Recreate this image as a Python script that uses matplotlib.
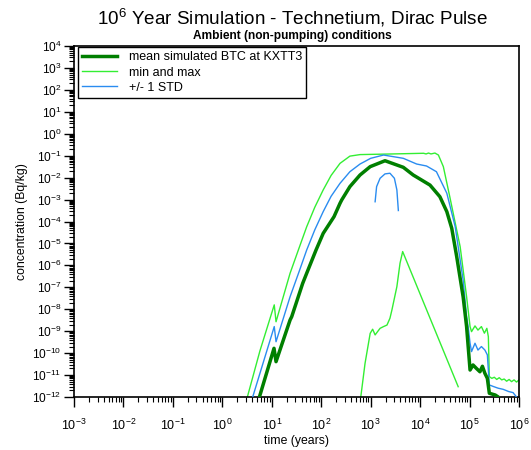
import numpy as np
import matplotlib
matplotlib.use("Agg")
import matplotlib.pyplot as plt
from matplotlib.ticker import LogLocator, NullFormatter, LogFormatterMathtext

plt.rcParams['font.family'] = ['Liberation Sans', 'DejaVu Sans']
plt.rcParams['mathtext.fontset'] = 'custom'
plt.rcParams['mathtext.rm'] = 'Liberation Sans'
plt.rcParams['mathtext.it'] = 'Liberation Sans:italic'
plt.rcParams['mathtext.bf'] = 'Liberation Sans:bold'

# ---- data (time in years, concentration in Bq/kg) ----
mean_t = [10**v for v in [0.70, 0.75, 1.045, 1.086, 1.37, 1.403, 1.625, 1.706, 1.895, 2.04, 2.259,
                          2.38, 2.414, 2.58, 2.785, 2.99, 3.29, 3.66, 3.86, 4.03, 4.20, 4.40, 4.54,
                          4.64, 4.74, 4.87, 4.94, 5.01, 5.07, 5.14, 5.21, 5.26, 5.31, 5.36, 5.40,
                          5.52, 5.58, 5.62]]
mean_c = [10**v for v in [-12.4, -12.0, -9.78, -10.39, -8.49, -8.34, -6.82, -6.36, -5.30, -4.54,
                          -3.78, -3.17, -3.02, -2.41, -1.88, -1.50, -1.23, -1.53, -1.88, -2.11,
                          -2.34, -2.87, -3.55, -4.31, -5.60, -7.43, -8.79, -10.77, -10.54, -10.70,
                          -10.85, -10.60, -10.92, -11.15, -11.83, -11.91, -12.0, -12.2]]

max_t = [10**v for v in [0.46, 0.506, 0.76, 1.05, 1.086, 1.37, 1.55, 1.706, 1.87, 2.04, 2.2, 2.38,
                         2.58, 2.785, 3.46, 4.07, 4.12, 4.17, 4.22, 4.30, 4.37, 4.47, 4.60, 4.74,
                         4.81, 4.94, 5.01, 5.04, 5.11, 5.17, 5.24, 5.30, 5.35, 5.38, 5.40, 5.45,
                         5.50, 5.55, 5.60, 5.65, 5.70, 5.75, 5.80, 5.85, 5.90, 5.95, 6.0]]
max_c = [10**v for v in [-12.4, -12.0, -9.9, -7.80, -8.57, -6.36, -5.22, -4.24, -3.35, -2.56, -1.90,
                         -1.35, -1.02, -0.95, -0.92, -0.89, -0.92, -0.88, -0.92, -0.88, -0.97,
                         -1.50, -2.87, -4.39, -5.15, -7.43, -8.79, -9.02, -8.76, -8.95, -8.79,
                         -9.09, -8.87, -9.25, -11.07, -11.15, -11.10, -11.20, -11.12, -11.22,
                         -11.18, -11.28, -11.20, -11.30, -11.22, -11.32, -11.22]]

min_t = [10**v for v in [2.78, 2.80, 2.886, 2.99, 3.04, 3.09, 3.19, 3.26, 3.33, 3.39, 3.43, 3.53,
                         3.594, 3.647, 4.77]]
min_c = [10**v for v in [-12.3, -12.0, -10.47, -9.10, -8.91, -9.17, -8.87, -8.79, -8.72, -8.41,
                         -8.03, -6.97, -5.90, -5.37, -11.53]]

stdhi_t = [10**v for v in [0.57, 0.614, 1.05, 1.086, 1.37, 1.55, 1.706, 1.87, 2.04, 2.2, 2.38,
                           2.58, 2.785, 3.0, 3.26, 3.66, 3.93, 4.13, 4.33, 4.54, 4.71, 4.87, 4.94,
                           4.98, 5.01, 5.04, 5.11, 5.17, 5.24, 5.31, 5.36, 5.40, 5.48, 5.58, 5.68,
                           5.79, 5.88, 5.95, 6.0]]
stdhi_c = [10**v for v in [-12.4, -12.0, -8.79, -9.48, -7.43, -6.30, -5.30, -4.38, -3.55, -2.85,
                           -2.26, -1.73, -1.38, -1.12, -0.97, -1.12, -1.38, -1.47, -1.73, -2.71,
                           -4.24, -6.67, -8.34, -8.94, -9.55, -9.93, -9.55, -9.86, -9.70, -9.86,
                           -10.08, -11.45, -11.52, -11.60, -11.65, -11.75, -11.80, -12.0, -12.2]]

stdlo_t = [10**v for v in [3.09, 3.12, 3.19, 3.29, 3.39, 3.48, 3.53, 3.56]]
stdlo_c = [10**v for v in [-3.10, -2.41, -2.03, -1.83, -1.80, -2.03, -2.56, -3.50]]

x_ticks = [10.0**k for k in range(-3, 7)]
y_ticks = [10.0**k for k in range(-12, 5)]

# ---- figure ----
fig = plt.figure(figsize=(5.31, 4.5), dpi=100)
ax = fig.add_axes([74/531, 1-397/450, (519-74)/531, (397-46)/450])

c_dark = '#007f00'
c_lime = '#33ee33'
c_blue = '#2a8cf0'

ax.plot(max_t, max_c, color=c_lime, lw=1.0, label='min and max', zorder=2)
ax.plot(min_t, min_c, color=c_lime, lw=1.0, zorder=2)
ax.plot(stdhi_t, stdhi_c, color=c_blue, lw=1.0, label='+/- 1 STD', zorder=3)
ax.plot(stdlo_t, stdlo_c, color=c_blue, lw=1.0, zorder=3)
ax.plot(mean_t, mean_c, color=c_dark, lw=2.5, label='mean simulated BTC at KXTT3', zorder=4)

ax.set_xscale('log')
ax.set_yscale('log')
ax.set_xlim(1e-3, 1e6)
ax.set_ylim(1e-12, 1e4)
ax.set_xticks(x_ticks)
ax.set_yticks(y_ticks)
ax.xaxis.set_major_formatter(LogFormatterMathtext())
ax.yaxis.set_major_formatter(LogFormatterMathtext())
ax.xaxis.set_minor_locator(LogLocator(base=10, subs=np.arange(2, 10), numticks=100))
ax.yaxis.set_minor_locator(LogLocator(base=10, subs=np.arange(2, 10), numticks=100))
ax.xaxis.set_minor_formatter(NullFormatter())
ax.yaxis.set_minor_formatter(NullFormatter())
ax.tick_params(which='major', direction='out', length=7, width=1, labelsize=8.6)
ax.tick_params(axis='x', which='major', pad=8, labelsize=9)
ax.tick_params(axis='y', which='major', pad=2)
ax.tick_params(which='minor', direction='out', length=3.5, width=0.8)
for s in ax.spines.values():
    s.set_linewidth(1.2)

ax.set_xlabel('time (years)', fontsize=8.8)
ax.set_ylabel('concentration (Bq/kg)', fontsize=8.8)
ax.xaxis.set_label_coords(0.5, (397-435)/351)
ax.yaxis.set_label_coords((28-74)/445, 0.5)

fig.text(0.551, 1-18/450, r'$10^6$ Year Simulation - Technetium, Dirac Pulse',
         ha='center', va='center', fontsize=13.6)
fig.text(0.551, 1-36/450, 'Ambient (non-pumping) conditions',
         ha='center', va='center', fontsize=8.6, fontweight='bold')

handles, labels = ax.get_legend_handles_labels()
order = [2, 0, 1]
leg = ax.legend([handles[i] for i in order], [labels[i] for i in order],
                loc='upper left', bbox_to_anchor=(78/531, 1-47/450),
                bbox_transform=fig.transFigure, fontsize=9, frameon=True,
                fancybox=False, framealpha=1, edgecolor='black', borderaxespad=0,
                handlelength=2.8, labelspacing=0.25, borderpad=0.35, handletextpad=0.9)
leg.get_frame().set_linewidth(1.0)

fig.savefig('out.png', dpi=100)
